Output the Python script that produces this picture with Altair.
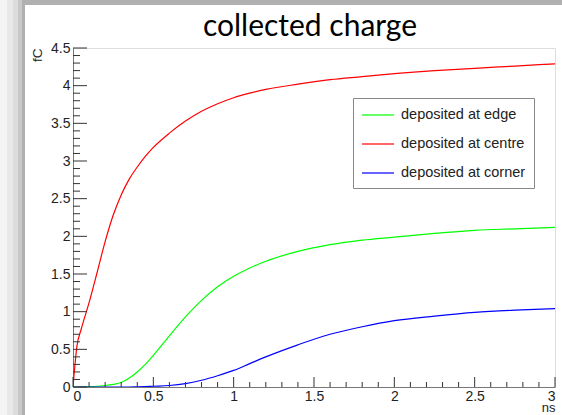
import altair as alt
import pandas as pd

# Collected charge (fC) versus time (ns) for three deposition points
time_ns = [0, 0.025, 0.05, 0.1, 0.15, 0.2, 0.25, 0.3, 0.35, 0.4, 0.45, 0.5,
           0.6, 0.7, 0.8, 0.9, 1.0, 1.1, 1.2, 1.4, 1.6, 1.8, 2.0, 2.25, 2.5,
           2.75, 3.0]
charge_edge = [0, 0, 0.002, 0.005, 0.01, 0.02, 0.035, 0.06, 0.12, 0.2, 0.3,
               0.42, 0.68, 0.93, 1.15, 1.33, 1.47, 1.58, 1.67, 1.80, 1.89,
               1.95, 1.99, 2.04, 2.08, 2.10, 2.12]
charge_centre = [0, 0.55, 0.76, 1.12, 1.52, 1.93, 2.28, 2.55, 2.76, 2.92, 3.06,
                 3.18, 3.37, 3.53, 3.66, 3.76, 3.84, 3.90, 3.95, 4.02, 4.08,
                 4.12, 4.16, 4.20, 4.23, 4.26, 4.29]
charge_corner = [0, 0, 0, 0, 0, 0, 0, 0, 0, 0.002, 0.005, 0.01, 0.02, 0.045,
                 0.09, 0.15, 0.22, 0.31, 0.40, 0.56, 0.70, 0.80, 0.88, 0.94,
                 0.99, 1.02, 1.04]

series_names = ["deposited at edge", "deposited at centre", "deposited at corner"]
series_colors = ["#00ff00", "#ff0000", "#0000ff"]

# Tick positions (ROOT-style inward ticks)
x_major = [0, 0.5, 1, 1.5, 2, 2.5, 3]
x_minor = [round(i * 0.1, 1) for i in range(31) if i % 5]
y_major = [0, 0.5, 1, 1.5, 2, 2.5, 3, 3.5, 4, 4.5]
y_minor = [round(i * 0.1, 1) for i in range(46) if i % 5]

W, H = 482, 339
FONT = "Liberation Sans"

rows = []
for name, vals in zip(series_names, [charge_edge, charge_centre, charge_corner]):
    for t, v in zip(time_ns, vals):
        rows.append({"t": t, "q": v, "series": name})
df = pd.DataFrame(rows)

xs = alt.Scale(domain=[0, 3], nice=False, zero=False)
ys = alt.Scale(domain=[0, 4.5], nice=False, zero=False)

x_axis = alt.Axis(values=x_major, format="~g", ticks=False, grid=False,
                  labelOverlap=False, domainColor="#777",
                  labelFont=FONT, labelFontSize=14,
                  labelColor="#222", labelPadding=2,
                  title="ns", titleFont=FONT, titleFontSize=13,
                  titleFontWeight="normal", titleColor="#222",
                  titleAnchor="end", titleAlign="right",
                  titleX=W, titleY=20, titleBaseline="middle")
y_axis = alt.Axis(values=y_major, format="~g", ticks=False, grid=False,
                  labelOverlap=False, domainColor="#777",
                  labelFont=FONT, labelFontSize=14,
                  labelColor="#222", labelPadding=3,
                  title="fC", titleFont=FONT, titleFontSize=13.5,
                  titleFontWeight="normal", titleColor="#222",
                  titleAngle=-90, titleAlign="right",
                  titleBaseline="middle", titleX=-36, titleY=0)

lines = alt.Chart(df).mark_line(strokeWidth=1.2, interpolate="monotone", clip=True).encode(
    x=alt.X("t:Q", scale=xs, axis=x_axis),
    y=alt.Y("q:Q", scale=ys, axis=y_axis),
    color=alt.Color("series:N",
                    scale=alt.Scale(domain=series_names, range=series_colors),
                    legend=alt.Legend(title=None, orient="none", legendX=280,
                                      legendY=50, fillColor="white",
                                      strokeColor="#888", padding=8,
                                      symbolType="M-1,0L3,0", symbolSize=256,
                                      symbolStrokeWidth=1.2, labelOffset=22,
                                      labelFont=FONT, labelFontSize=14.5,
                                      labelColor="#222", rowPadding=13)),
)

tick_color = "#333"
ymaj = alt.Chart(pd.DataFrame({"v": y_major})).mark_rule(color=tick_color).encode(
    y=alt.Y("v:Q", scale=ys, axis=y_axis), x=alt.value(0), x2=alt.value(14))
ymin = alt.Chart(pd.DataFrame({"v": y_minor})).mark_rule(color=tick_color).encode(
    y=alt.Y("v:Q", scale=ys, axis=y_axis), x=alt.value(0), x2=alt.value(7))
xmaj = alt.Chart(pd.DataFrame({"v": x_major})).mark_rule(color=tick_color).encode(
    x=alt.X("v:Q", scale=xs, axis=x_axis), y=alt.value(H), y2=alt.value(H - 10))
xmin = alt.Chart(pd.DataFrame({"v": x_minor})).mark_rule(color=tick_color).encode(
    x=alt.X("v:Q", scale=xs, axis=x_axis), y=alt.value(H), y2=alt.value(H - 5))

# Shaded pad border along the left and top edges
pad = []
for x0, x1, c in [(-73, -66, "#f4f4f4"), (-66, -60, "#e8e8e8"),
                  (-60, -55, "#dcdcdc"), (-55, -51, "#c8c8c8"),
                  (-51, -48, "#b0b0b0")]:
    pad.append(alt.Chart(pd.DataFrame({"a": [0]})).mark_rect(color=c).encode(
        x=alt.value(x0), x2=alt.value(x1), y=alt.value(-48), y2=alt.value(H + 28)))
pad.append(alt.Chart(pd.DataFrame({"a": [0]})).mark_rect(color="#b0b0b0").encode(
    x=alt.value(-48), x2=alt.value(W + 7), y=alt.value(-48), y2=alt.value(-43)))

chart = alt.layer(lines, ymaj, ymin, xmaj, xmin, *pad).properties(
    width=W, height=H,
    autosize="none",
    padding={"left": 73, "top": 48, "right": 7, "bottom": 28},
    title=alt.TitleParams("collected charge", font="Lato", fontSize=30,
                          fontWeight="normal", color="black", anchor="middle",
                          baseline="alphabetic", offset=11, dx=-4, dy=77),
).configure_view(stroke="#888", strokeWidth=1).configure(background="white")

chart.save("out.html", embed_options={"renderer": "svg", "actions": False})
